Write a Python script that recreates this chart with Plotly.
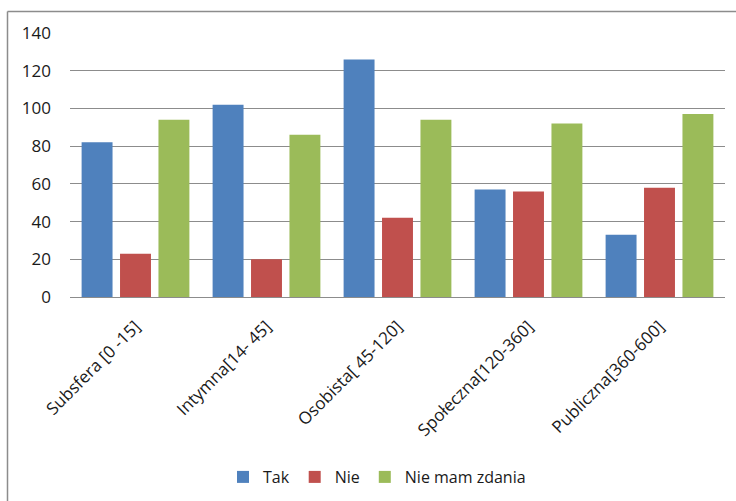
import plotly.graph_objects as go

categories = ["Subsfera [0 -15]", "Intymna[14- 45]", "Osobista[ 45-120]",
              "Społeczna[120-360]", "Publiczna[360-600]"]
tak = [82, 102, 126, 57, 33]
nie = [23, 20, 42, 56, 58]
nie_mam_zdania = [94, 86, 94, 92, 97]

series = [("Tak", tak, "#4F81BD"), ("Nie", nie, "#C0504D"),
          ("Nie mam zdania", nie_mam_zdania, "#9BBB59")]

fig = go.Figure()
for name, vals, col in series:
    fig.add_trace(go.Bar(x=categories, y=vals, name=name, marker_color=col,
                         marker_line_width=0))

W, H = 736, 501
L, R, T, B = 70, 11, 33, 204
pw, ph = W - L - R, H - T - B

def px_x(p):
    return (p - L) / pw

def px_y(p):
    return (H - B - p) / ph

fig.update_layout(
    width=W, height=H,
    margin=dict(l=L, r=R, t=T, b=B, autoexpand=False),
    paper_bgcolor="white", plot_bgcolor="white",
    barmode="group", bargap=0.12, bargroupgap=0.195,
    font=dict(family="Open Sans", size=17, color="#1a1a1a"),
    showlegend=True,
    legend=dict(orientation="h", x=px_x(377), y=px_y(477), xanchor="center",
                yanchor="middle", font=dict(size=16, color="#1a1a1a"),
                itemsizing="constant", itemwidth=30, traceorder="normal"),
    xaxis=dict(tickangle=-45, showgrid=False, showline=True, linecolor="#8c8c8c",
               linewidth=1, ticks="", tickfont=dict(size=17),
               ticklabelstandoff=12),
    yaxis=dict(range=[0, 140], dtick=20, showgrid=True, gridcolor="#8c8c8c",
               gridwidth=1, zeroline=False, showline=False, ticks="",
               ticklabelstandoff=18, tickfont=dict(size=17)),
    shapes=[
        dict(type="line", xref="paper", yref="paper", x0=px_x(7.5), x1=px_x(740),
             y0=px_y(11.5), y1=px_y(11.5), line=dict(color="#8c8c8c", width=1.5)),
        dict(type="line", xref="paper", yref="paper", x0=px_x(7.5), x1=px_x(7.5),
             y0=px_y(11.5), y1=px_y(505), line=dict(color="#8c8c8c", width=1.5)),
    ],
)

fig.write_html("out.html")
